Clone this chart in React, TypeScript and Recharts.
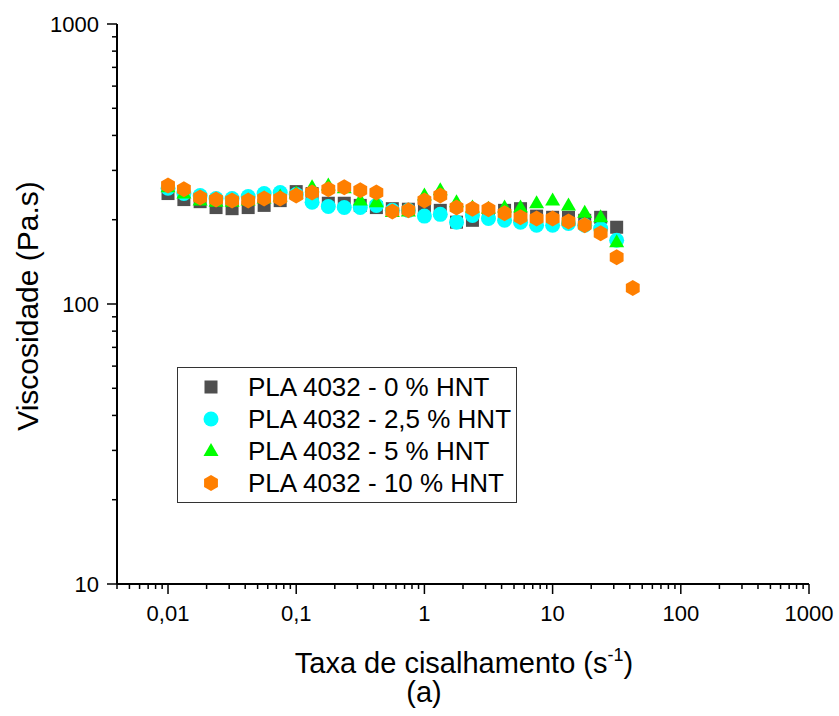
import { ScatterChart, Scatter, XAxis, YAxis, Legend } from 'recharts';

// shear rate (s-1), 8 points per decade
const SHEAR_RATE = [
  0.01, 0.0133, 0.0178, 0.0237, 0.0316, 0.0422, 0.0562, 0.075,
  0.1, 0.133, 0.178, 0.237, 0.316, 0.422, 0.562, 0.75,
  1, 1.33, 1.78, 2.37, 3.16, 4.22, 5.62, 7.5,
  10, 13.3, 17.8, 23.7, 31.6, 42.2,
];

// viscosity (Pa.s) for each HNT content
const VISC_0 = [
  248, 236, 232, 221, 219, 221, 225, 234, 252, 248,
  229, 229, 225, 221, 219, 218, 221, 216, 196, 199,
  207, 216, 219, 206, 204, 204, 199, 204, 188,
];
const VISC_2_5 = [
  259, 248, 244, 238, 238, 242, 248, 250, 246, 231,
  223, 221, 221, 225, 216, 216, 206, 209, 196, 207,
  202, 199, 196, 191, 191, 194, 191, 186, 169,
];
const VISC_5 = [
  261, 248, 234, 232, 232, 234, 238, 242, 248, 261,
  265, 259, 234, 231, 213, 214, 244, 255, 231, 221,
  219, 221, 221, 229, 234, 225, 212, 204, 166,
];
const VISC_10 = [
  265, 257, 240, 236, 234, 234, 238, 238, 244, 250,
  257, 261, 255, 250, 214, 216, 234, 244, 221, 219,
  218, 211, 204, 202, 202, 197, 191, 179, 147, 114,
];

const SERIES_NAMES = [
  'PLA 4032 - 0 % HNT',
  'PLA 4032 - 2,5 % HNT',
  'PLA 4032 - 5 % HNT',
  'PLA 4032 - 10 % HNT',
];

const X_MAJOR = [0.01, 0.1, 1, 10, 100, 1000];
const X_LABELS = ['0,01', '0,1', '1', '10', '100', '1000'];
const Y_MAJOR = [10, 100, 1000];
const Y_LABELS = ['10', '100', '1000'];

const FONT = '"Liberation Sans", Arial, sans-serif';

// minor ticks 2..9 inside each decade
function minorTicks(lo: number, hi: number) {
  const out: number[] = [];
  for (let d = Math.floor(Math.log10(lo)); d < Math.ceil(Math.log10(hi)); d++) {
    for (let m = 2; m <= 9; m++) {
      const v = m * Math.pow(10, d);
      if (v >= lo * 0.999 && v <= hi * 1.001) out.push(v);
    }
  }
  return out;
}

const X_TICKS = [...X_MAJOR, ...minorTicks(0.004, 1000)].sort((a, b) => a - b);
const Y_TICKS = [...Y_MAJOR, ...minorTicks(10, 1000)].sort((a, b) => a - b);

const majorIndex = (list: number[], v: number) =>
  list.findIndex((m) => Math.abs(Math.log10(m) - Math.log10(v)) < 1e-6);

const toPoints = (vals: number[]) => vals.map((y, i) => ({ x: SHEAR_RATE[i], y }));

const COLORS = ['#4f4f4f', '#00ffff', '#00ff00', '#ff7f00'];

function Square({ cx, cy }: any) {
  return <rect x={cx - 6.5} y={cy - 6.5} width={13} height={13} fill={COLORS[0]} />;
}
function Dot({ cx, cy }: any) {
  return <circle cx={cx} cy={cy} r={7.5} fill={COLORS[1]} />;
}
function Tri({ cx, cy }: any) {
  return <polygon points={`${cx},${cy - 8} ${cx - 7.5},${cy + 5} ${cx + 7.5},${cy + 5}`} fill={COLORS[2]} />;
}
function Hex({ cx, cy }: any) {
  const r = 8;
  const w = r * 0.866;
  return (
    <polygon
      points={`${cx},${cy - r} ${cx + w},${cy - r / 2} ${cx + w},${cy + r / 2} ${cx},${cy + r} ${cx - w},${cy + r / 2} ${cx - w},${cy - r / 2}`}
      fill={COLORS[3]}
    />
  );
}
const SHAPES = [Square, Dot, Tri, Hex];

function XTick({ x, y, payload }: any) {
  const i = majorIndex(X_MAJOR, payload.value);
  return (
    <g>
      <line x1={x} y1={y} x2={x} y2={y + (i >= 0 ? 10 : 5)} stroke="#000" strokeWidth={1.5} />
      {i >= 0 && (
        <text x={x} y={y + 37} textAnchor="middle" fontSize={22} fontFamily={FONT} fill="#000">
          {X_LABELS[i]}
        </text>
      )}
    </g>
  );
}

function YTick({ x, y, payload }: any) {
  const i = majorIndex(Y_MAJOR, payload.value);
  return (
    <g>
      <line x1={x - (i >= 0 ? 10 : 5)} y1={y} x2={x} y2={y} stroke="#000" strokeWidth={1.5} />
      {i >= 0 && (
        <text x={x - 18} y={y + 8} textAnchor="end" fontSize={22} fontFamily={FONT} fill="#000">
          {Y_LABELS[i]}
        </text>
      )}
    </g>
  );
}

function LegendBox() {
  const rows = [20, 52, 84, 116];
  return (
    <svg width={340} height={136}>
      <rect x={0.5} y={0.5} width={339} height={135} fill="#fff" stroke="#333" strokeWidth={1} />
      {SERIES_NAMES.map((name, i) => {
        const S = SHAPES[i];
        return (
          <g key={name}>
            <S cx={34} cy={rows[i]} />
            <text x={71} y={rows[i] + 9} fontSize={26} fontFamily={FONT} fill="#000">
              {name}
            </text>
          </g>
        );
      })}
    </svg>
  );
}

export default function App() {
  const seriesData = [VISC_0, VISC_2_5, VISC_5, VISC_10].map(toPoints);

  return (
    <div style={{ position: 'absolute', left: 0, top: 0, width: 839, height: 716, background: '#fff' }}>
      <ScatterChart width={839} height={716} margin={{ top: 24, right: 30, bottom: 0, left: 0 }}>
        <XAxis
          type="number"
          dataKey="x"
          scale="log"
          domain={[0.004, 1000]}
          allowDataOverflow
          ticks={X_TICKS}
          interval={0}
          height={132}
          tickSize={0}
          tickMargin={0}
          tickLine={false}
          axisLine={{ stroke: '#000', strokeWidth: 2 }}
          tick={<XTick />}
        />
        <YAxis
          type="number"
          dataKey="y"
          scale="log"
          domain={[10, 1000]}
          allowDataOverflow
          ticks={Y_TICKS}
          interval={0}
          width={117}
          tickSize={0}
          tickMargin={0}
          tickLine={false}
          axisLine={{ stroke: '#000', strokeWidth: 2 }}
          tick={<YTick />}
        />
        {seriesData.map((d, i) => (
          <Scatter
            key={SERIES_NAMES[i]}
            name={SERIES_NAMES[i]}
            data={d}
            fill={COLORS[i]}
            shape={SHAPES[i]}
            isAnimationActive={false}
          />
        ))}
        <Legend
          layout="vertical"
          align="center"
          verticalAlign="middle"
          wrapperStyle={{ left: 177, top: 367, width: 340, height: 136 }}
          content={() => <LegendBox />}
        />
      </ScatterChart>
      <svg
        width={839}
        height={716}
        style={{ position: 'absolute', left: 0, top: 0, pointerEvents: 'none' }}
      >
        <text
          x={38}
          y={306}
          transform="rotate(-90, 38, 306)"
          textAnchor="middle"
          fontSize={30}
          fontFamily={FONT}
          fill="#000"
        >
          Viscosidade (Pa.s)
        </text>
        <text x={464} y={673} textAnchor="middle" fontSize={29} fontFamily={FONT} fill="#000">
          Taxa de cisalhamento (s
          <tspan fontSize={18} dy={-12}>-1</tspan>
          <tspan dy={12}>)</tspan>
        </text>
        <text x={424} y={702} textAnchor="middle" fontSize={29} fontFamily={FONT} fill="#000">
          (a)
        </text>
      </svg>
    </div>
  );
}
